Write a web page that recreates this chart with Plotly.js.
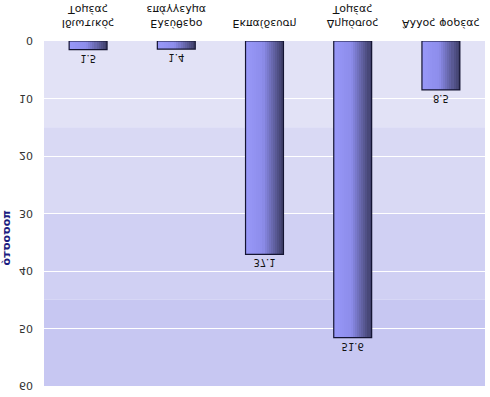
<!DOCTYPE html>
<html>
<head>
<meta charset="utf-8">
<script src="https://cdn.plot.ly/plotly-3.0.1.min.js"></script>
<style>
html,body{margin:0;padding:0;background:#fff;}
#chart{width:490px;height:397px;transform:scaleY(-1);transform-origin:50% 50%;}
</style>
</head>
<body>
<div id="chart"></div>
<script>
// Data
const categories = ['Ιδιωτικός<br>Τομέας', 'Ελεύθερο<br>επάγγελμα', 'Εκπαίδευση', 'Δημόσιος<br>Τομέας', 'Άλλος φορέας'];
const values = [1.5, 1.4, 37.1, 51.6, 8.5];
const valueLabels = ['1.5', '1.4', '37.1', '51.6', '8.5'];
const yTicks = [0, 10, 20, 30, 40, 50, 60];
const bandEdges = [0, 15, 30, 45, 60];
const bandColors = ['#e2e2f6', '#d9d9f4', '#d0d0f3', '#c7c7f2'];

const barWidth = 0.43;
const nSlices = 18;
function sliceColor(t) {
  const a = [152, 152, 248], m = [120, 120, 212], b = [60, 60, 100];
  let c;
  if (t < 0.45) {
    const u = t / 0.45;
    c = a.map((v, i) => v + (m[i] - v) * u * 0.35);
  } else {
    const u = (t - 0.45) / 0.55;
    const s = a.map((v, i) => v + (m[i] - v) * 0.35);
    c = s.map((v, i) => v + (b[i] - v) * u);
  }
  return 'rgb(' + c.map(Math.round).join(',') + ')';
}

const traces = [];
const sw = barWidth / nSlices;
for (let i = 0; i < nSlices; i++) {
  traces.push({
    type: 'bar', x: categories, y: values,
    width: sw * 1.05, offset: -barWidth / 2 + i * sw,
    marker: {color: sliceColor((i + 0.5) / nSlices), line: {width: 0}},
    hoverinfo: 'skip', showlegend: false
  });
}
traces.push({
  type: 'bar', x: categories, y: values,
  width: barWidth, offset: -barWidth / 2,
  marker: {color: 'rgba(0,0,0,0)', line: {color: '#141432', width: 1.2}},
  text: valueLabels, textposition: 'outside', cliponaxis: false,
  textfont: {family: 'DejaVu Sans', size: 10, color: '#111'},
  hoverinfo: 'skip', showlegend: false
});

const shapes = bandColors.map((c, i) => ({
  type: 'rect', layer: 'below', xref: 'paper', yref: 'y',
  x0: 0, x1: 1, y0: bandEdges[i], y1: bandEdges[i + 1],
  fillcolor: c, line: {width: 0}
}));

const layout = {
  width: 490, height: 397,
  margin: {l: 44, r: 5, t: 11, b: 41},
  paper_bgcolor: '#fff', plot_bgcolor: '#fff',
  barmode: 'overlay', bargap: 0,
  font: {family: 'DejaVu Sans', size: 11, color: '#222'},
  xaxis: {
    showgrid: false, zeroline: false, showline: false, ticks: '',
    ticklabelstandoff: 9, fixedrange: true,
    tickfont: {family: 'DejaVu Sans', size: 11, color: '#111'}
  },
  yaxis: {
    range: [0, 60], tickvals: yTicks, showgrid: true, gridcolor: '#ffffff', gridwidth: 1,
    zeroline: false, showline: false, ticks: '', ticklabelstandoff: 10,
    tickfont: {family: 'DejaVu Sans', size: 11, color: '#333'}, fixedrange: true
  },
  shapes: shapes,
  annotations: [{
    text: '<b>ποσοστό</b>', textangle: -90, xref: 'paper', yref: 'paper',
    x: -0.085, y: 0.57, xanchor: 'center', yanchor: 'middle', showarrow: false,
    font: {family: 'DejaVu Sans', size: 11, color: '#1c1c80'}
  }]
};

Plotly.newPlot('chart', traces, layout, {displayModeBar: false, staticPlot: true});
</script>
</body>
</html>
